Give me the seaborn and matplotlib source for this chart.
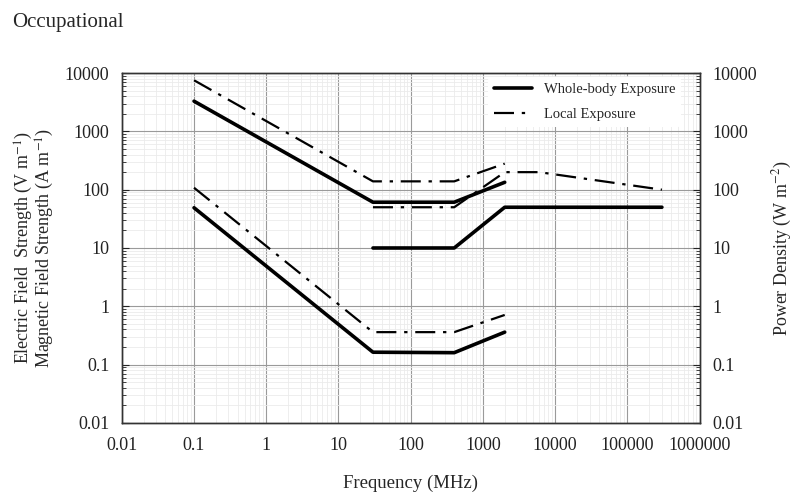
import numpy as np
import pandas as pd
import matplotlib
import matplotlib.pyplot as plt
import seaborn as sns
from matplotlib.ticker import LogLocator, FuncFormatter, NullFormatter
from matplotlib.lines import Line2D

matplotlib.use('Agg')
sns.set_style('white')
plt.rcParams['font.family'] = ['Liberation Serif', 'DejaVu Serif']
plt.rcParams['mathtext.fontset'] = 'stix'

# whole-body exposure (solid)
freq_e_wb = [0.1, 30, 400, 2000]
e_wb = [3300, 61, 61, 134]
freq_h_wb = [0.1, 30, 400, 2000]
h_wb = [49, 0.163, 0.16, 0.36]
freq_s_wb = [30, 400, 2000, 300000]
s_wb = [10, 10, 50, 50]

# local exposure (dash-dot)
freq_e_loc = [0.1, 30, 400, 2000]
e_loc = [7540, 139, 139, 280]
freq_h_loc = [0.1, 30, 400, 2000]
h_loc = [108, 0.36, 0.36, 0.71]
freq_s_loc = [30, 400, 2000, 6000, 300000]
s_loc = [50, 50, 200, 200, 100]

dashdot = (0, (9, 3.5, 1.5, 3.5))

fig = plt.figure(figsize=(7.96, 4.94), dpi=100)
ax = fig.add_axes([0.153, 0.144, 0.726, 0.708])
ax2 = ax.twinx()

for f, v in [(freq_e_wb, e_wb), (freq_h_wb, h_wb)]:
    sns.lineplot(x=f, y=v, ax=ax, color='black', lw=2.6, sort=False)
for f, v in [(freq_e_loc, e_loc), (freq_h_loc, h_loc)]:
    sns.lineplot(x=f, y=v, ax=ax, color='black', lw=1.6, sort=False, linestyle=dashdot)
sns.lineplot(x=freq_s_wb, y=s_wb, ax=ax2, color='black', lw=2.6, sort=False)
sns.lineplot(x=freq_s_loc, y=s_loc, ax=ax2, color='black', lw=1.6, sort=False, linestyle=dashdot)

for a in (ax, ax2):
    a.set_xscale('log')
    a.set_yscale('log')
    a.set_xlim(0.01, 1e6)
    a.set_ylim(0.01, 10000)
    a.yaxis.set_major_locator(LogLocator(base=10, numticks=20))
    a.yaxis.set_minor_locator(LogLocator(base=10, subs=np.arange(2, 10), numticks=20))
    a.yaxis.set_minor_formatter(NullFormatter())
    a.yaxis.set_major_formatter(FuncFormatter(lambda v, p: f'{v:.10g}'))
    a.tick_params(which='both', direction='in', labelsize=13, colors='#222222')
    a.tick_params(which='major', length=5)
    a.tick_params(which='minor', length=3)
    for s in a.spines.values():
        s.set_color('#333333')
        s.set_linewidth(1.0)

ax.xaxis.set_major_locator(LogLocator(base=10, numticks=20))
ax.xaxis.set_minor_locator(LogLocator(base=10, subs=np.arange(2, 10), numticks=20))
ax.xaxis.set_minor_formatter(NullFormatter())
ax.xaxis.set_major_formatter(FuncFormatter(lambda v, p: f'{v:.10g}'))
ax.tick_params(axis='x', pad=10)
ax.tick_params(axis='y', pad=9)
ax2.tick_params(axis='y', pad=9)

ax.grid(which='major', color='#9a9a9a', lw=0.8)
ax.grid(which='minor', color='#ebebeb', lw=0.6)
ax.set_axisbelow(True)

ax.set_xlabel('Frequency (MHz)', fontsize=13.5, labelpad=15)
ax.set_ylabel('Electric Field  Strength (V m$^{-1}$)\nMagnetic Field Strength (A m$^{-1}$)',
              fontsize=13, labelpad=6, linespacing=0.95)
ax2.set_ylabel('Power Density (W m$^{-2}$)', fontsize=13, labelpad=10)

handles = [Line2D([], [], color='black', lw=2.6),
           Line2D([], [], color='black', lw=1.6, linestyle=dashdot)]
ax2.legend(handles, ['Whole-body Exposure', 'Local Exposure'], loc='upper right',
           bbox_to_anchor=(0.98, 1.01), frameon=True, facecolor='white', edgecolor='none',
           framealpha=1, fontsize=10.5, handlelength=2.6, labelspacing=0.8)

fig.text(0.015, 0.955, 'Occupational', fontsize=15, va='center', ha='left')

fig.savefig('out.png', dpi=100)
